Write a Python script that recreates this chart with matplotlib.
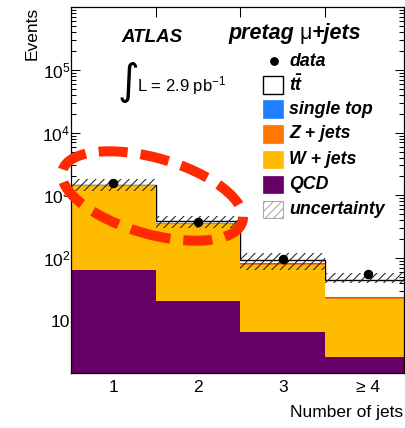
import numpy as np
import matplotlib
matplotlib.use('Agg')
import matplotlib.pyplot as plt
from matplotlib.patches import Rectangle, Ellipse
from matplotlib.lines import Line2D
from matplotlib.ticker import FixedLocator, NullFormatter

plt.rcParams['font.family'] = ['Liberation Sans', 'DejaVu Sans']
plt.rcParams['mathtext.fontset'] = 'custom'
plt.rcParams['mathtext.rm'] = 'Liberation Sans'
plt.rcParams['mathtext.it'] = 'Liberation Sans:italic'
plt.rcParams['mathtext.bf'] = 'Liberation Sans:bold'
plt.rcParams['mathtext.bfit'] = 'Liberation Sans:bold:italic'
plt.rcParams['hatch.linewidth'] = 0.75

# ---------------- data ----------------
categories = ['1', '2', '3', '\u2265 4']
qcd = [65, 20.3, 6.5, 2.6]
wjets = [1370, 330, 72, 19.5]
zjets = [20, 10, 2, 0.8]
singletop = [4, 8, 3, 1.2]
ttbar = [4, 15, 8.5, 20]
data = [1574, 372, 98, 56]
unc_up = [1820, 460, 120, 57]
unc_down = [1190, 307, 64, 40]

legend_labels = ['data', r'$\mathbfit{t\bar{t}}$', 'single top', 'Z + jets', 'W + jets', 'QCD', 'uncertainty']

c_qcd = '#660066'
c_w = '#FFBB00'
c_z = '#FF7700'
c_st = '#1F7FFF'
c_red = '#FF2A00'

W, H = 405, 428
fig = plt.figure(figsize=(W / 100, H / 100), dpi=100)

def fx(x):
    return x / W

def fy(y):
    return 1 - y / H

ax = fig.add_axes([fx(71), fy(373.3), fx(404) - fx(71), fy(7.3) - fy(373.3)])
ax.set_yscale('log')

x = np.arange(1, len(categories) + 1)
edges = np.arange(0.5, len(categories) + 1.0, 1.0)
width = 1.0

qcd_a = np.array(qcd)
w_a = np.array(wjets)
z_a = np.array(zjets)
st_a = np.array(singletop)
tt_a = np.array(ttbar)

b1 = qcd_a
b2 = b1 + w_a
b3 = b2 + z_a
b4 = b3 + st_a
total = b4 + tt_a

# stacked layers
ax.bar(x, tt_a, bottom=b4, width=width, color='white', linewidth=0, zorder=1)
ax.stairs(total, edges, color='black', linewidth=1.0, zorder=1.5)
ax.bar(x, st_a, bottom=b3, width=width, color=c_st, linewidth=0, zorder=2)
ax.bar(x, z_a, bottom=b2, width=width, color=c_z, linewidth=0, zorder=2)
ax.bar(x, w_a, bottom=b1, width=width, color=c_w, linewidth=0, zorder=2)
ax.bar(x, qcd_a, width=width, color=c_qcd, linewidth=0, zorder=2)

# uncertainty band
up = np.array(unc_up)
dn = np.array(unc_down)
ax.bar(x, up - dn, bottom=dn, width=width, fill=False, hatch='////',
       edgecolor='#222222', linewidth=0, zorder=3)

# data
ax.plot(x, data, 'o', color='black', markersize=5.8, zorder=5)

ax.set_xlim(0.5, 4.43)
ax.set_ylim(1.45, 1e6)

# x ticks
ax.set_xticks(x)
ax.set_xticklabels(categories, fontsize=12.5)
ax.xaxis.set_minor_locator(FixedLocator(edges[1:-1]))
ax.tick_params(axis='x', which='major', length=0, pad=5)
ax.tick_params(axis='x', which='minor', direction='in', length=7.5, width=0.75,
               top=True, bottom=True)

# y ticks
ax.yaxis.set_major_locator(FixedLocator([10, 1e2, 1e3, 1e4, 1e5, 1e6]))
ax.set_yticklabels(['10', r'$10^{2}$', r'$10^{3}$', r'$10^{4}$', r'$10^{5}$', ''])
minor = [m * 10 ** e for e in range(0, 6) for m in range(2, 10)]
ax.yaxis.set_minor_locator(FixedLocator(minor))
ax.yaxis.set_minor_formatter(NullFormatter())
ax.tick_params(axis='y', which='major', direction='in', length=6.5, width=0.75,
               left=True, right=True, labelsize=12.5, pad=0.5)
ax.tick_params(axis='y', which='minor', direction='in', length=3.6, width=0.75,
               left=True, right=True)
for s in ax.spines.values():
    s.set_linewidth(0.9)

# axis titles
fig.text(fx(32), fy(7), 'Events', rotation=90, ha='center', va='top', fontsize=12.5)
fig.text(fx(403), fy(413), 'Number of jets', ha='right', va='center', fontsize=12.5)

# ATLAS label & lumi
fig.text(fx(152), fy(37), 'ATLAS', ha='center', va='center', fontsize=13.5,
         fontweight='bold', fontstyle='italic')
fig.text(fx(128), fy(82), '\u222b', ha='center', va='center', fontsize=30,
         family=['DejaVu Sans'])
fig.text(fx(137), fy(86), r'L = 2.9 pb$^{-1}$', ha='left', va='center', fontsize=12)

# channel label built from pieces
fig.canvas.draw()
r = fig.canvas.get_renderer()
t1 = fig.text(fx(228), fy(34), 'pretag ', ha='left', va='center', fontsize=15.5,
              fontweight='bold', fontstyle='italic')
e1 = t1.get_window_extent(renderer=r)
t2 = fig.text(e1.x1 / (W), fy(34), '\u03bc', ha='left', va='center', fontsize=15.5)
e2 = t2.get_window_extent(renderer=r)
t3 = fig.text(e2.x1 / (W), fy(34), '+jets', ha='left', va='center', fontsize=15.5,
              fontweight='bold', fontstyle='italic')

# legend
leg_y = [61, 85, 109, 134, 159, 184, 209]
bx0, bx1 = 263, 283
bh = 17
for i, (lab, yy) in enumerate(zip(legend_labels, leg_y)):
    fig.text(fx(289), fy(yy), lab, ha='left', va='center', fontsize=12.8,
             fontweight='bold', fontstyle='italic')
fig.add_artist(Line2D([fx(274)], [fy(61)], marker='o', color='black',
                      markersize=5.3, transform=fig.transFigure))
box_styles = [
    dict(facecolor='white', edgecolor='black', lw=1.0),
    dict(facecolor=c_st, edgecolor=c_st, lw=0.5),
    dict(facecolor=c_z, edgecolor=c_z, lw=0.5),
    dict(facecolor=c_w, edgecolor=c_w, lw=0.5),
    dict(facecolor=c_qcd, edgecolor=c_qcd, lw=0.5),
]
for yy, st in zip(leg_y[1:6], box_styles):
    fig.add_artist(Rectangle((fx(bx0), fy(yy + bh / 2)), fx(bx1) - fx(bx0),
                             bh / H, transform=fig.transFigure, **st))
fig.add_artist(Rectangle((fx(bx0), fy(209 + bh / 2)), fx(bx1) - fx(bx0), bh / H,
                         transform=fig.transFigure, facecolor='white',
                         edgecolor='#aaaaaa', lw=0.8, hatch='////'))

# red dashed ellipse annotation
ell = Ellipse((1.525, (H - 196) / 100), width=1.87, height=0.76, angle=-16,
              transform=fig.dpi_scale_trans, fill=False, edgecolor=c_red,
              lw=7.2, linestyle=(0, (2.9, 1.3)), zorder=10)
fig.add_artist(ell)

fig.savefig('out.png', dpi=100)
